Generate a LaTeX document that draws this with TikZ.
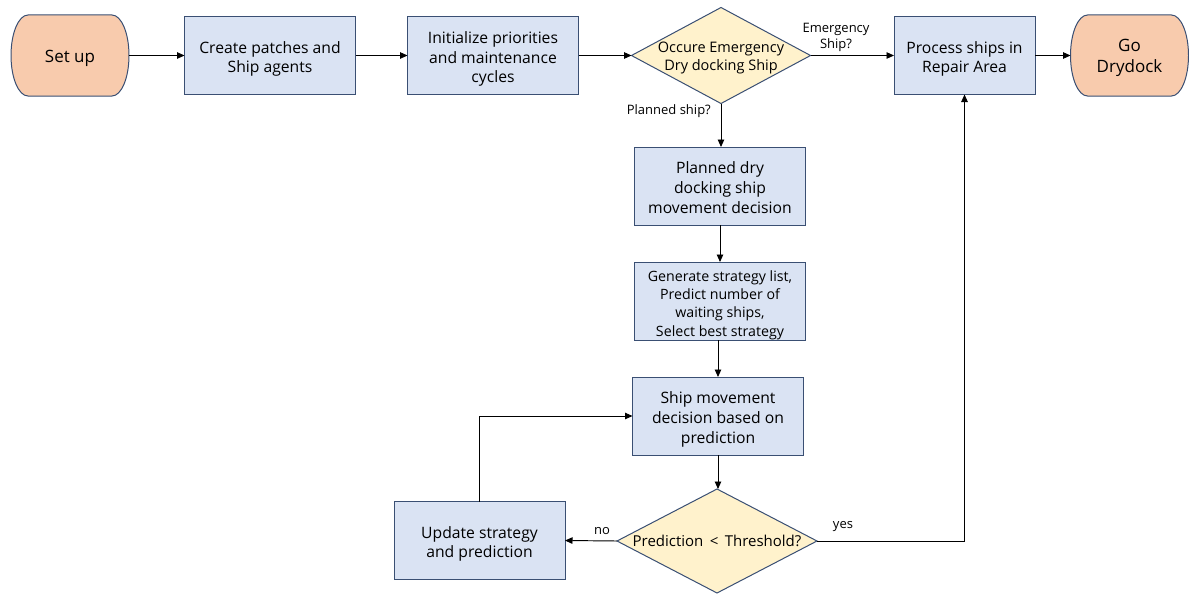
\documentclass[tikz,border=0pt]{standalone}
\usepackage{fontspec}
\setmainfont{Open Sans}
\usetikzlibrary{shapes.geometric,arrows.meta,backgrounds}
\definecolor{bfill}{HTML}{DAE3F3}
\definecolor{ofill}{HTML}{F8CBAD}
\definecolor{yfill}{HTML}{FFF2CC}
\definecolor{bord}{HTML}{3A4F73}
\begin{document}
\begin{tikzpicture}[x=1pt,y=-1pt,
  box/.style={draw=bord,fill=bfill,line width=1pt,inner sep=0pt,outer sep=0pt,
    minimum width=171pt,minimum height=78pt},
  btext/.style={align=center,inner sep=0pt,font=\fontsize{15.7}{19.7}\selectfont,
    text depth=4pt,yshift=-3.6pt},
  gtext/.style={align=center,inner sep=0pt,font=\fontsize{14.2}{18.4}\selectfont,
    text depth=3.6pt,yshift=-4.1pt},
  term/.style={inner sep=0pt,outer sep=0pt,minimum width=118pt,minimum height=81pt},
  ttext/.style={align=center,inner sep=0pt,font=\fontsize{17}{21.5}\selectfont,
    text depth=4.1pt,yshift=-2.4pt},
  termshape/.style={draw=bord,fill=ofill,line width=1pt},
  dia/.style={diamond,draw=bord,fill=yfill,line width=1pt,inner sep=0pt,outer sep=0pt},
  dtext/.style={align=center,inner sep=0pt,font=\fontsize{14.5}{17.5}\selectfont,
    text depth=3.6pt,yshift=-2.65pt},
  ptext/.style={align=center,inner sep=0pt,font=\fontsize{15}{17}\selectfont,
    text depth=4pt,yshift=-2pt},
  arr/.style={draw=black,line width=0.95pt,-{Triangle[length=7.5pt,width=6.5pt]}},
  lab/.style={align=center,font=\fontsize{13}{16}\selectfont,inner sep=0pt}
]
\useasboundingbox (0,0) rectangle (1189,594);

% top row
\node[term,label={[ttext]center:Set up}] (setup) at (70,55.5) {};
\node[box,label={[btext]center:Create patches and\\Ship agents}] (create) at (270,55.5) {};
\node[box,label={[btext]center:Initialize priorities\\and maintenance\\cycles}] (init) at (493,55.5) {};
\node[dia,minimum width=179pt,minimum height=96pt,
  label={[dtext]center:Occure Emergency\\Dry docking Ship}] (d1) at (721,55.5) {};
\node[box,minimum width=141pt,label={[btext]center:Process ships in\\Repair Area}] (proc) at (964.5,55.5) {};
\node[term,label={[ttext]center:Go\\Drydock}] (godry) at (1129.5,55.5) {};

\begin{scope}[on background layer]
  \draw[termshape] ([xshift=17pt]setup.north west) -- ([xshift=-17pt]setup.north east)
    arc[start angle=90,end angle=-90,x radius=17pt,y radius=40.5pt]
    -- ([xshift=17pt]setup.south west)
    arc[start angle=270,end angle=90,x radius=17pt,y radius=40.5pt] -- cycle;
  \draw[termshape] ([xshift=17pt]godry.north west) -- ([xshift=-17pt]godry.north east)
    arc[start angle=90,end angle=-90,x radius=17pt,y radius=40.5pt]
    -- ([xshift=17pt]godry.south west)
    arc[start angle=270,end angle=90,x radius=17pt,y radius=40.5pt] -- cycle;
\end{scope}

% middle column
\node[box,label={[btext]center:Planned dry\\docking ship\\movement decision}] (plan) at (720,186) {};
\node[box,label={[gtext]center:Generate strategy list,\\Predict number of\\waiting ships,\\Select best strategy}] (gen) at (720,301) {};
\node[box,label={[btext]center:Ship movement\\decision based on\\prediction}] (move) at (718,416) {};
\node[dia,minimum width=200pt,minimum height=104pt,
  label={[ptext]center:Prediction \,<\, Threshold?}] (d2) at (717,541) {};
\node[box,label={[btext]center:Update strategy\\and prediction}] (upd) at (479.5,540.5) {};

% connectors
\draw[arr] (setup) -- (create);
\draw[arr] (create) -- (init);
\draw[arr] (init) -- (d1.west);
\draw[arr] (d1.east) -- (proc.west);
\draw[arr] (proc) -- (godry);
\draw[arr] (d1.south) -- (d1.south |- plan.north);
\draw[arr] (plan.south) -- (plan.south |- gen.north);
\draw[arr] (gen.south -| move.north) -- (move.north);
\draw[arr] (move.south) -- (move.south |- d2.north);
\draw[arr] (d2.west) -- (upd.east);
\draw[arr] (d2.east) -| (proc.south);
\draw[arr] (upd.north) |- (move.west);

% labels
\node[lab] (lemerg) at (836,37) {Emergency\\Ship?};
\node[lab,anchor=east] (lplan) at (711,111) {Planned ship?};
\node[lab] (lno) at (602,531) {no};
\node[lab] (lyes) at (843,527) {yes};
\end{tikzpicture}
\end{document}
